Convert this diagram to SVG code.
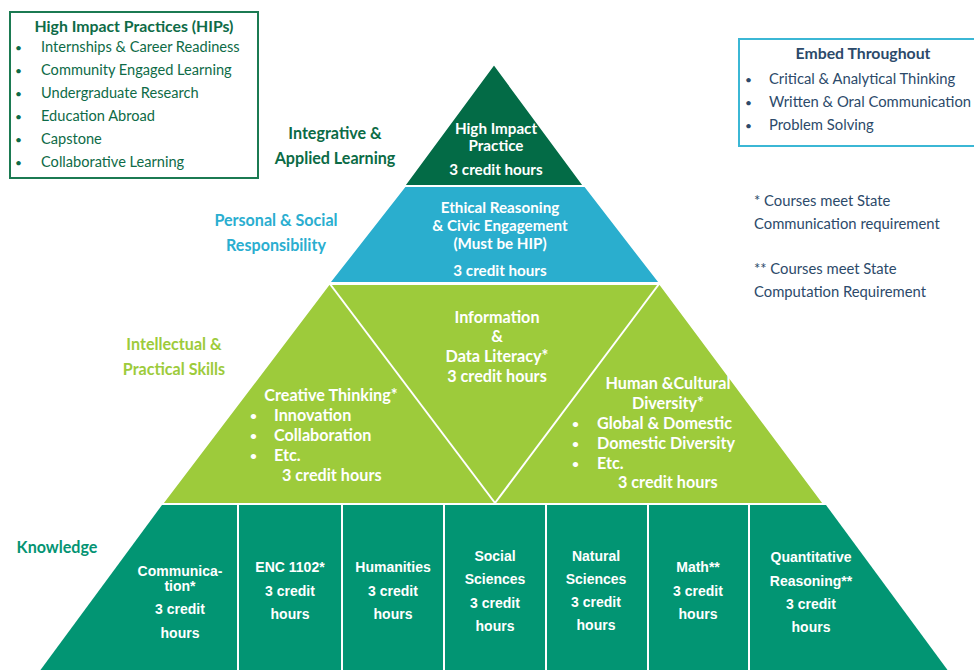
<svg xmlns="http://www.w3.org/2000/svg" width="974" height="670" viewBox="0 0 974 670">
<style>
.c{font-family:Lato,"Open Sans","Noto Sans",sans-serif;}
.w{fill:#ffffff;font-weight:bold;font-size:15.2px;}
.g{font-size:16.2px;}
.a{font-family:"Liberation Sans",Arial,sans-serif;fill:#ffffff;font-weight:bold;font-size:14px;text-anchor:middle;}
.m{text-anchor:middle;}
.lab{font-weight:bold;font-size:16.1px;text-anchor:middle;}
.hip{fill:#0e6b47;font-size:14.6px;}
.emb{fill:#2c4a6a;font-size:14.8px;}
.ttl{font-weight:bold;font-size:15.8px;text-anchor:middle;}
.b{font-size:12px;}
.sep{stroke:#ffffff;stroke-width:2;}
</style>
<rect width="974" height="670" fill="#ffffff"/>

<g id="hip-box">
<rect x="10" y="12" width="248" height="166" fill="none" stroke="#1b7a52" stroke-width="2"/>
<text class="c hip ttl" x="134" y="32">High Impact Practices (HIPs)</text>
<g class="c hip">
<text class="b" x="15" y="52">•</text><text x="41" y="52">Internships &amp; Career Readiness</text>
<text class="b" x="15" y="75">•</text><text x="41" y="75">Community Engaged Learning</text>
<text class="b" x="15" y="98">•</text><text x="41" y="98">Undergraduate Research</text>
<text class="b" x="15" y="121">•</text><text x="41" y="121">Education Abroad</text>
<text class="b" x="15" y="144">•</text><text x="41" y="144">Capstone</text>
<text class="b" x="15" y="167">•</text><text x="41" y="167">Collaborative Learning</text>
</g>
</g>

<g id="embed-box">
<rect x="739" y="39" width="250" height="107" fill="none" stroke="#3bb7d5" stroke-width="2"/>
<text class="c emb ttl" x="863" y="59">Embed Throughout</text>
<g class="c emb">
<text class="b" x="745" y="84">•</text><text x="769" y="84">Critical &amp; Analytical Thinking</text>
<text class="b" x="745" y="107">•</text><text x="769" y="107">Written &amp; Oral Communication</text>
<text class="b" x="745" y="130">•</text><text x="769" y="130">Problem Solving</text>
</g>
</g>

<g id="notes" class="c emb">
<text x="754" y="206">* Courses meet State</text>
<text x="754" y="229">Communication requirement</text>
<text x="754" y="274">** Courses meet State</text>
<text x="754" y="297">Computation Requirement</text>
</g>

<g id="level-labels" class="c lab">
<text x="335" y="139" fill="#0b6b45">Integrative &amp;</text>
<text x="335" y="164" fill="#0b6b45">Applied Learning</text>
<text x="276" y="226" fill="#2aaed0">Personal &amp; Social</text>
<text x="276" y="251" fill="#2aaed0">Responsibility</text>
<text x="174" y="350" fill="#9dcb3b">Intellectual &amp;</text>
<text x="174" y="375" fill="#9dcb3b">Practical Skills</text>
<text x="57" y="553" fill="#049473">Knowledge</text>
</g>

<g id="tier-hip">
<polygon points="494,64 584,186 404,186" fill="#036b46" stroke="#ffffff" stroke-width="2"/>
<g class="c w m">
<text x="496" y="134">High Impact</text>
<text x="496" y="151">Practice</text>
<text x="496" y="175">3 credit hours</text>
</g>
</g>

<g id="tier-ethical">
<polygon points="405,186 585,186 660,283 329,283" fill="#2aaece" stroke="#ffffff" stroke-width="2"/>
<g class="c w m">
<text x="500" y="213">Ethical Reasoning</text>
<text x="500" y="231">&amp; Civic Engagement</text>
<text x="500" y="249">(Must be HIP)</text>
<text x="500" y="276">3 credit hours</text>
</g>
</g>

<g id="tier-skills">
<polygon points="329,284 660,284 824,504 162,504" fill="#9dcb3b" stroke="#ffffff" stroke-width="2"/>
</g>

<g id="connectors">
<line class="sep" x1="330" y1="284" x2="495" y2="503" stroke-width="1.6"/>
<line class="sep" x1="659" y1="284" x2="495" y2="503" stroke-width="1.6"/>
</g>

<g id="node-creative" class="c w g">
<text x="331" y="401" class="m">Creative Thinking*</text>
<text class="b" x="250" y="420">•</text><text x="274" y="421">Innovation</text>
<text class="b" x="250" y="440">•</text><text x="274" y="441">Collaboration</text>
<text class="b" x="250" y="460">•</text><text x="274" y="461">Etc.</text>
<text x="282" y="481">3 credit hours</text>
</g>

<g id="node-information" class="c w g m">
<text x="497" y="323">Information</text>
<text x="497" y="342">&amp;</text>
<text x="497" y="362">Data Literacy*</text>
<text x="497" y="382">3 credit hours</text>
</g>

<g id="node-human" class="c w g">
<text x="668" y="389" class="m">Human &amp;Cultural</text>
<text x="668" y="409" class="m">Diversity*</text>
<text class="b" x="572" y="428">•</text><text x="597" y="429">Global &amp; Domestic</text>
<text class="b" x="572" y="448">•</text><text x="597" y="449">Domestic Diversity</text>
<text class="b" x="572" y="468">•</text><text x="597" y="469">Etc.</text>
<text x="618" y="488">3 credit hours</text>
</g>

<g id="tier-knowledge">
<polygon points="162,505 826,505 949,672 39,672" fill="#029573"/>
<g class="sep">
<line x1="238" y1="505" x2="238" y2="670"/>
<line x1="342" y1="505" x2="342" y2="670"/>
<line x1="444" y1="505" x2="444" y2="670"/>
<line x1="546" y1="505" x2="546" y2="670"/>
<line x1="648" y1="505" x2="648" y2="670"/>
<line x1="749" y1="505" x2="749" y2="670"/>
</g>
</g>

<g id="node-communication" class="a">
<text x="180" y="576">Communica-</text>
<text x="180" y="591">tion*</text>
<text x="180" y="614">3 credit</text>
<text x="180" y="638">hours</text>
</g>
<g id="node-enc" class="a">
<text x="290" y="572">ENC 1102*</text>
<text x="290" y="596">3 credit</text>
<text x="290" y="619">hours</text>
</g>
<g id="node-humanities" class="a">
<text x="393" y="572">Humanities</text>
<text x="393" y="596">3 credit</text>
<text x="393" y="619">hours</text>
</g>
<g id="node-social" class="a">
<text x="495" y="561">Social</text>
<text x="495" y="584">Sciences</text>
<text x="495" y="608">3 credit</text>
<text x="495" y="631">hours</text>
</g>
<g id="node-natural" class="a">
<text x="596" y="561">Natural</text>
<text x="596" y="584">Sciences</text>
<text x="596" y="607">3 credit</text>
<text x="596" y="630">hours</text>
</g>
<g id="node-math" class="a">
<text x="698" y="572">Math**</text>
<text x="698" y="596">3 credit</text>
<text x="698" y="619">hours</text>
</g>
<g id="node-quant" class="a">
<text x="811" y="562">Quantitative</text>
<text x="811" y="586">Reasoning**</text>
<text x="811" y="609">3 credit</text>
<text x="811" y="632">hours</text>
</g>
</svg>
